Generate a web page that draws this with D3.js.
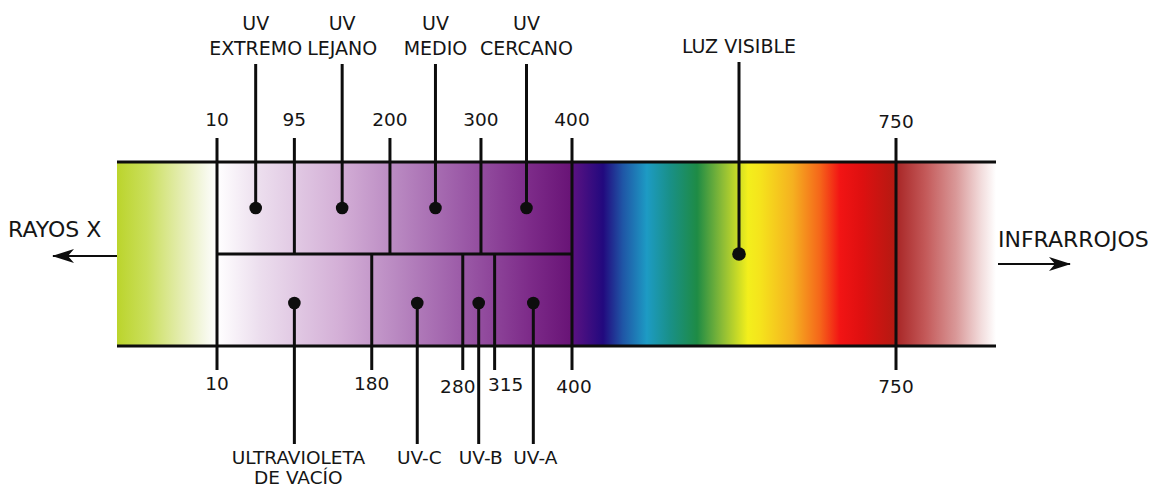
<!DOCTYPE html>
<html>
<head>
<meta charset="utf-8">
<script src="https://cdn.jsdelivr.net/npm/d3@7/dist/d3.min.js"></script>
<style>
  html, body { margin: 0; padding: 0; background: #fff; }
  text { font-family: "DejaVu Sans", sans-serif; fill: #151515; }
</style>
</head>
<body>
<div id="chart"></div>
<script>
// wavelength boundaries (nm)
const topTicks = [10, 95, 200, 300, 400, 750];
const bottomTicks = [10, 180, 280, 315, 400, 750];

// upper row of the UV band
const topBandEdges = [10, 95, 200, 300, 400];
const topBandNames = [["UV", "EXTREMO"], ["UV", "LEJANO"], ["UV", "MEDIO"], ["UV", "CERCANO"]];

// lower row of the UV band
const bottomBandEdges = [10, 180, 280, 315, 400];
const bottomBandNames = [["ULTRAVIOLETA", "DE VACÍO"], ["UV-C"], ["UV-B"], ["UV-A"]];

const visibleRange = [400, 750];
const visibleName = "LUZ VISIBLE";
const leftName = "RAYOS X";
const rightName = "INFRARROJOS";

const width = 1159, height = 489;
const barTop = 162, barBottom = 346, barMid = 254;
const outerPad = 100;

const x = d3.scaleLinear()
  .domain([10, 400, 750])
  .range([217, 572, 896]);

const svg = d3.select("#chart").append("svg")
  .attr("width", width)
  .attr("height", height)
  .attr("viewBox", `0 0 ${width} ${height}`);

const defs = svg.append("defs");
function gradient(id, stops) {
  const g = defs.append("linearGradient").attr("id", id);
  g.selectAll("stop").data(stops).join("stop")
    .attr("offset", d => d[0])
    .attr("stop-color", d => d[1]);
}
gradient("g-xray", [[0, "#bbd42c"], [0.3, "#cadf5c"], [0.65, "#e5edb2"], [0.9, "#f7f9ec"], [1, "#ffffff"]]);
gradient("g-uv", [[0, "#ffffff"], [0.12, "#ecdeee"], [0.35, "#d3aed6"], [0.5, "#ba8ac2"], [0.7, "#9a58a6"], [0.88, "#7d2b89"], [1, "#681376"]]);
gradient("g-vis", [
  [0, "#5c1282"], [0.096, "#22097e"], [0.157, "#1f56a6"], [0.231, "#1d9bc4"],
  [0.302, "#199088"], [0.386, "#1e8b45"], [0.466, "#8ebd36"], [0.543, "#f3ef1c"],
  [0.58, "#f5e41c"], [0.682, "#f5b020"], [0.765, "#f5661a"], [0.827, "#f21414"],
  [0.895, "#de1010"], [1, "#b31a12"]
]);
gradient("g-ir", [[0, "#a82525"], [0.3, "#c45a5a"], [0.6, "#d99898"], [0.85, "#f2dcdc"], [1, "#ffffff"]]);

const x0 = x(topTicks[0]), xUV = x(visibleRange[0]), xIR = x(visibleRange[1]);
const bands = [
  { x1: x0 - outerPad, x2: x0, fill: "url(#g-xray)" },
  { x1: x0, x2: xUV, fill: "url(#g-uv)" },
  { x1: xUV, x2: xIR, fill: "url(#g-vis)" },
  { x1: xIR, x2: xIR + outerPad, fill: "url(#g-ir)" }
];
svg.selectAll("rect.band").data(bands).join("rect")
  .attr("class", "band")
  .attr("x", d => d.x1)
  .attr("width", d => d.x2 - d.x1)
  .attr("y", barTop)
  .attr("height", barBottom - barTop)
  .attr("fill", d => d.fill);

const ink = "#0d0d0d";
const line = (x1, y1, x2, y2, w = 3) => svg.append("line")
  .attr("x1", x1).attr("y1", y1).attr("x2", x2).attr("y2", y2)
  .attr("stroke", ink).attr("stroke-width", w);

// frame
line(x0 - outerPad, barTop, xIR + outerPad, barTop, 3.2);
line(x0 - outerPad, barBottom, xIR + outerPad, barBottom, 3.2);
line(x0, barMid, xUV, barMid, 3.2);

const tickTop = 138, tickBottom = 370;
// full-height boundaries
[10, 400, 750].forEach(v => line(x(v), tickTop, x(v), tickBottom));
// upper row dividers
topTicks.filter(v => bottomTicks.indexOf(v) < 0)
  .forEach(v => line(x(v), tickTop, x(v), barMid));
// lower row dividers
bottomTicks.filter(v => topTicks.indexOf(v) < 0)
  .forEach(v => line(x(v), barMid, x(v), tickBottom));

// tick labels
svg.selectAll("text.ttop").data(topTicks).join("text")
  .attr("class", "ttop")
  .attr("x", d => x(d)).attr("y", d => d === 750 ? 128 : 126)
  .attr("text-anchor", "middle").attr("font-size", 18.5)
  .text(d => d);
// crowded labels are nudged apart as in the original
const nudge = { 280: [-5, 3], 315: [11, 1], 400: [2, 3], 750: [0, 3] };
svg.selectAll("text.tbot").data(bottomTicks).join("text")
  .attr("class", "tbot")
  .attr("x", d => x(d) + (nudge[d] ? nudge[d][0] : 0))
  .attr("y", d => 390 + (nudge[d] ? nudge[d][1] : 0))
  .attr("text-anchor", "middle").attr("font-size", 18.5)
  .text(d => d);

// band callouts
const mids = edges => d3.pairs(edges).map(([a, b]) => x((a + b) / 2));
const topMids = mids(topBandEdges);
const bottomMids = mids(bottomBandEdges);
const topDotY = (barTop + barMid) / 2, bottomDotY = (barMid + barBottom) / 2 + 3;

topMids.forEach((cx, i) => {
  line(cx, 64, cx, topDotY);
  svg.append("circle").attr("cx", cx).attr("cy", topDotY).attr("r", 6.3).attr("fill", ink);
  svg.append("text").attr("x", cx).attr("text-anchor", "middle").attr("font-size", 19)
    .selectAll("tspan").data(topBandNames[i]).join("tspan")
    .attr("x", cx).attr("y", (d, j) => 30 + j * 25).text(d => d);
});

bottomMids.forEach((cx, i) => {
  line(cx, bottomDotY, cx, 444);
  svg.append("circle").attr("cx", cx).attr("cy", bottomDotY).attr("r", 6.3).attr("fill", ink);
  svg.append("text").attr("x", cx).attr("text-anchor", "middle").attr("font-size", 18.5)
    .selectAll("tspan").data(bottomBandNames[i]).join("tspan")
    .attr("x", cx + (i === 0 ? 4 : 2)).attr("y", (d, j) => 464 + j * 20).text(d => d);
});

const visX = x((visibleRange[0] + visibleRange[1]) / 2) + 5;
line(visX, 62, visX, barMid);
svg.append("circle").attr("cx", visX).attr("cy", barMid).attr("r", 6.8).attr("fill", ink);
svg.append("text").attr("x", visX).attr("y", 53).attr("text-anchor", "middle")
  .attr("font-size", 19).text(visibleName);

// side arrows
defs.append("marker").attr("id", "arrow")
  .attr("viewBox", "0 0 22 14").attr("refX", 21).attr("refY", 7)
  .attr("markerWidth", 22).attr("markerHeight", 14)
  .attr("markerUnits", "userSpaceOnUse").attr("orient", "auto")
  .append("path").attr("d", "M0,0 L22,7 L0,14 L6,7 Z").attr("fill", ink);

line(x0 - outerPad, 256, 53, 256, 2).attr("marker-end", "url(#arrow)");
svg.append("text").attr("x", 8).attr("y", 237).attr("font-size", 22).text(leftName);

line(xIR + outerPad + 2, 264, 1070, 264, 2).attr("marker-end", "url(#arrow)");
svg.append("text").attr("x", 998).attr("y", 247).attr("font-size", 22).text(rightName);
</script>
</body>
</html>
